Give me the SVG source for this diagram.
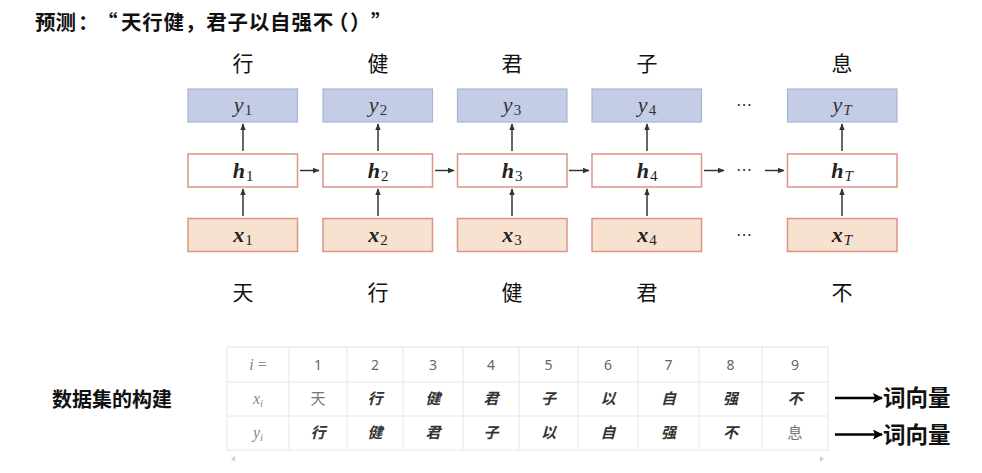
<svg xmlns="http://www.w3.org/2000/svg" width="982" height="473" viewBox="0 0 982 473">
<defs>
<marker id="ah" viewBox="0 0 10 10" refX="9" refY="5" markerWidth="7" markerHeight="7" markerUnits="userSpaceOnUse" orient="auto">
<path d="M0,1 L10,5 L0,9 z" fill="#333"/>
</marker>
<marker id="ahb" viewBox="0 0 10 10" refX="9" refY="5" markerWidth="10" markerHeight="10" markerUnits="userSpaceOnUse" orient="auto">
<path d="M0,0 L10,5 L0,10 L2,5 z" fill="#000"/>
</marker>
<style>
.yb{fill:#c4cce6;stroke:#a9b5d8;stroke-width:1.2}
.hb{fill:#fff;stroke:#dc9585;stroke-width:1.5}
.xb{fill:#f7e1cf;stroke:#dc9585;stroke-width:1.5}
.m{font-family:"Liberation Serif",serif;font-style:italic;font-size:22px;fill:#333;text-anchor:middle}
.mb{font-family:"Liberation Serif",serif;font-style:italic;font-weight:bold;font-size:22px;fill:#222;text-anchor:middle}
.sub{font-style:normal;font-weight:normal;font-size:15px}
.subT{font-style:italic;font-weight:normal;font-size:15px}
.cn{font-family:"Noto Sans CJK SC",sans-serif;font-size:21px;fill:#111;text-anchor:middle}
.dots{font-family:"DejaVu Sans",sans-serif;font-size:16px;fill:#333;text-anchor:middle}
.conn line{stroke:#333;stroke-width:1.5;marker-end:url(#ah)}
.tl{stroke:#e6e6e6;stroke-width:1;fill:none}
.tn{font-family:"Noto Sans","Noto Sans CJK SC",sans-serif;font-size:14px;fill:#666;text-anchor:middle}
.tm{font-family:"Liberation Serif",serif;font-style:italic;font-size:16px;fill:#888;text-anchor:middle}
.tc{font-family:"Noto Sans CJK SC",sans-serif;font-size:15px;font-weight:bold;font-style:italic;fill:#333;text-anchor:middle}
.tcn{font-family:"Noto Sans CJK SC",sans-serif;font-size:15px;fill:#777;text-anchor:middle}
.hd{font-family:"Noto Sans CJK SC",sans-serif;font-weight:bold;fill:#111}
</style>
</defs>
<rect width="982" height="473" fill="#fff"/>

<text class="hd" font-size="20.5" y="30" x="35 55.5 78 97 121 142.3 163.6 184.9 206.2 227.5 248.8 270.1 291.4 312.7 328 350 371">预测：“天行健，君子以自强不（）”</text>

<g id="top-labels">
<text class="cn" x="243" y="71">行</text>
<text class="cn" x="378" y="71">健</text>
<text class="cn" x="512" y="71">君</text>
<text class="cn" x="647" y="71">子</text>
<text class="cn" x="842" y="71">息</text>
</g>
<g id="bottom-labels">
<text class="cn" x="243" y="300">天</text>
<text class="cn" x="378" y="300">行</text>
<text class="cn" x="512" y="300">健</text>
<text class="cn" x="647" y="300">君</text>
<text class="cn" x="842" y="300">不</text>
</g>

<g id="y1"><rect class="yb" x="188" y="89" width="109.5" height="33"/><text class="m" x="243" y="112">y<tspan class="sub" dx="1" dy="3">1</tspan></text></g>
<g id="y2"><rect class="yb" x="323" y="89" width="109.5" height="33"/><text class="m" x="378" y="112">y<tspan class="sub" dx="1" dy="3">2</tspan></text></g>
<g id="y3"><rect class="yb" x="457.5" y="89" width="109.5" height="33"/><text class="m" x="512" y="112">y<tspan class="sub" dx="1" dy="3">3</tspan></text></g>
<g id="y4"><rect class="yb" x="592" y="89" width="109.5" height="33"/><text class="m" x="647" y="112">y<tspan class="sub" dx="1" dy="3">4</tspan></text></g>
<g id="yT"><rect class="yb" x="787.5" y="89" width="109.5" height="33"/><text class="m" x="842" y="112">y<tspan class="subT" dx="1" dy="3">T</tspan></text></g>

<g id="h1"><rect class="hb" x="188" y="154" width="109.5" height="33"/><text class="mb" x="243" y="178">h<tspan class="sub" dx="1" dy="3">1</tspan></text></g>
<g id="h2"><rect class="hb" x="323" y="154" width="109.5" height="33"/><text class="mb" x="378" y="178">h<tspan class="sub" dx="1" dy="3">2</tspan></text></g>
<g id="h3"><rect class="hb" x="457.5" y="154" width="109.5" height="33"/><text class="mb" x="512" y="178">h<tspan class="sub" dx="1" dy="3">3</tspan></text></g>
<g id="h4"><rect class="hb" x="592" y="154" width="109.5" height="33"/><text class="mb" x="647" y="178">h<tspan class="sub" dx="1" dy="3">4</tspan></text></g>
<g id="hT"><rect class="hb" x="787.5" y="154" width="109.5" height="33"/><text class="mb" x="842" y="178">h<tspan class="subT" dx="1" dy="3">T</tspan></text></g>

<g id="x1"><rect class="xb" x="188" y="218.5" width="109.5" height="33"/><text class="mb" x="243" y="242">x<tspan class="sub" dx="1" dy="3">1</tspan></text></g>
<g id="x2"><rect class="xb" x="323" y="218.5" width="109.5" height="33"/><text class="mb" x="378" y="242">x<tspan class="sub" dx="1" dy="3">2</tspan></text></g>
<g id="x3"><rect class="xb" x="457.5" y="218.5" width="109.5" height="33"/><text class="mb" x="512" y="242">x<tspan class="sub" dx="1" dy="3">3</tspan></text></g>
<g id="x4"><rect class="xb" x="592" y="218.5" width="109.5" height="33"/><text class="mb" x="647" y="242">x<tspan class="sub" dx="1" dy="3">4</tspan></text></g>
<g id="xT"><rect class="xb" x="787.5" y="218.5" width="109.5" height="33"/><text class="mb" x="842" y="242">x<tspan class="subT" dx="1" dy="3">T</tspan></text></g>

<g id="ellipses">
<text class="dots" x="744" y="110">⋯</text>
<text class="dots" x="744" y="175">⋯</text>
<text class="dots" x="744" y="240">⋯</text>
</g>

<g class="conn" id="connectors">
<line x1="243" y1="216" x2="243" y2="189"/>
<line x1="378" y1="216" x2="378" y2="189"/>
<line x1="512" y1="216" x2="512" y2="189"/>
<line x1="647" y1="216" x2="647" y2="189"/>
<line x1="842" y1="216" x2="842" y2="189"/>
<line x1="243" y1="151" x2="243" y2="124"/>
<line x1="378" y1="151" x2="378" y2="124"/>
<line x1="512" y1="151" x2="512" y2="124"/>
<line x1="647" y1="151" x2="647" y2="124"/>
<line x1="842" y1="151" x2="842" y2="124"/>
<line x1="300" y1="170.5" x2="319" y2="170.5"/>
<line x1="435" y1="170.5" x2="454" y2="170.5"/>
<line x1="569" y1="170.5" x2="589" y2="170.5"/>
<line x1="704" y1="170.5" x2="724" y2="170.5"/>
<line x1="765" y1="170.5" x2="784" y2="170.5"/>
</g>

<text class="hd" x="52" y="407" font-size="20">数据集的构建</text>

<g id="table">
<rect class="tl" x="227" y="347" width="601" height="103"/>
<line class="tl" x1="227" y1="382" x2="828" y2="382"/>
<line class="tl" x1="227" y1="416" x2="828" y2="416"/>
<line class="tl" x1="289" y1="347" x2="289" y2="450"/>
<line class="tl" x1="347" y1="347" x2="347" y2="450"/>
<line class="tl" x1="403" y1="347" x2="403" y2="450"/>
<line class="tl" x1="463" y1="347" x2="463" y2="450"/>
<line class="tl" x1="519" y1="347" x2="519" y2="450"/>
<line class="tl" x1="578" y1="347" x2="578" y2="450"/>
<line class="tl" x1="638" y1="347" x2="638" y2="450"/>
<line class="tl" x1="699" y1="347" x2="699" y2="450"/>
<line class="tl" x1="762" y1="347" x2="762" y2="450"/>
<text class="tm" x="258" y="370">i <tspan font-style="normal">=</tspan></text>
<text class="tn" x="318" y="370">1</text>
<text class="tn" x="375" y="370">2</text>
<text class="tn" x="433" y="370">3</text>
<text class="tn" x="491" y="370">4</text>
<text class="tn" x="548.5" y="370">5</text>
<text class="tn" x="608" y="370">6</text>
<text class="tn" x="668.5" y="370">7</text>
<text class="tn" x="730.5" y="370">8</text>
<text class="tn" x="795" y="370">9</text>
<text class="tm" x="258" y="404">x<tspan font-size="11" dy="3">i</tspan></text>
<text class="tcn" x="318" y="404">天</text>
<text class="tc" x="375" y="404">行</text>
<text class="tc" x="433" y="404">健</text>
<text class="tc" x="491" y="404">君</text>
<text class="tc" x="548.5" y="404">子</text>
<text class="tc" x="608" y="404">以</text>
<text class="tc" x="668.5" y="404">自</text>
<text class="tc" x="730.5" y="404">强</text>
<text class="tc" x="795" y="404">不</text>
<text class="tm" x="258" y="438">y<tspan font-size="11" dy="3">i</tspan></text>
<text class="tc" x="318" y="438">行</text>
<text class="tc" x="375" y="438">健</text>
<text class="tc" x="433" y="438">君</text>
<text class="tc" x="491" y="438">子</text>
<text class="tc" x="548.5" y="438">以</text>
<text class="tc" x="608" y="438">自</text>
<text class="tc" x="668.5" y="438">强</text>
<text class="tc" x="730.5" y="438">不</text>
<text class="tcn" x="795" y="438">息</text>
<path d="M235,456 L231,459 L235,462 z" fill="#cfcfcf"/>
<path d="M820,456 L824,459 L820,462 z" fill="#cfcfcf"/>
</g>

<g id="word-vec">
<line x1="835" y1="398" x2="882" y2="398" stroke="#000" stroke-width="2.5" marker-end="url(#ahb)"/>
<line x1="835" y1="434.5" x2="882" y2="434.5" stroke="#000" stroke-width="2.5" marker-end="url(#ahb)"/>
<text class="hd" x="883" y="406" font-size="22.5">词向量</text>
<text class="hd" x="883" y="443" font-size="22.5">词向量</text>
</g>
</svg>
